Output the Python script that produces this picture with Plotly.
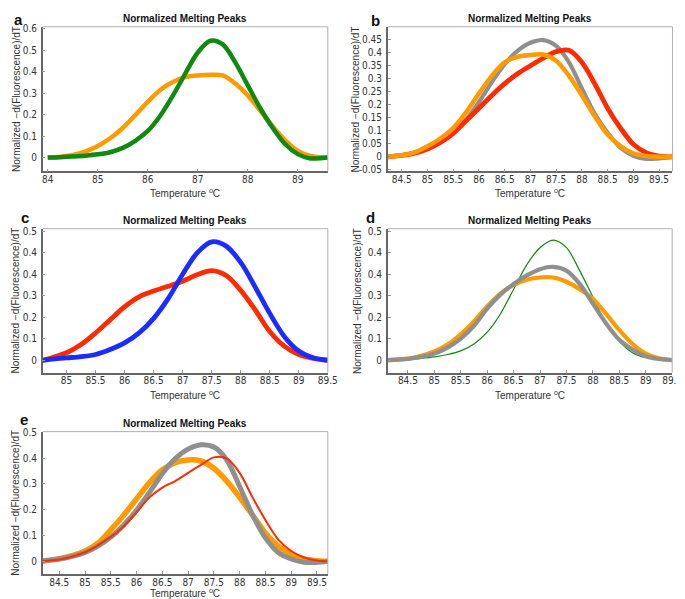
import plotly.graph_objects as go

# ---------------- data ----------------
# Panel a
temp_a = [84.0, 84.25, 84.5, 84.75, 85.0, 85.25, 85.5, 85.75, 86.0, 86.25, 86.5, 86.75,
          87.0, 87.25, 87.5, 87.75, 88.0, 88.25, 88.5, 88.75, 89.0, 89.25, 89.5, 89.6]
a_green = [0.0, 0.002, 0.005, 0.009, 0.015, 0.025, 0.045, 0.078, 0.124, 0.195, 0.288, 0.392,
           0.49, 0.545, 0.528, 0.444, 0.337, 0.23, 0.138, 0.062, 0.016, -0.004, -0.002, 0.0]
a_orange = [0.0, 0.004, 0.012, 0.028, 0.054, 0.09, 0.138, 0.198, 0.26, 0.315, 0.352, 0.375,
            0.383, 0.386, 0.383, 0.345, 0.29, 0.218, 0.145, 0.08, 0.031, 0.008, 0.001, 0.0]

# Panel b
temp_b = [84.23, 84.5, 84.75, 85.0, 85.25, 85.5, 85.75, 86.0, 86.25, 86.5, 86.75, 87.0,
          87.25, 87.5, 87.75, 88.0, 88.25, 88.5, 88.75, 89.0, 89.25, 89.5, 89.76]
b_gray = [0.0, 0.006, 0.016, 0.035, 0.06, 0.092, 0.142, 0.21, 0.286, 0.355, 0.406, 0.437,
          0.447, 0.425, 0.362, 0.262, 0.165, 0.092, 0.035, 0.004, -0.008, -0.006, 0.0]
b_orange = [0.0, 0.006, 0.017, 0.04, 0.07, 0.11, 0.17, 0.242, 0.31, 0.362, 0.383, 0.39,
            0.392, 0.368, 0.31, 0.236, 0.155, 0.085, 0.041, 0.013, 0.003, 0.0, 0.0]
b_red = [0.0, 0.005, 0.014, 0.03, 0.055, 0.09, 0.138, 0.186, 0.235, 0.28, 0.318, 0.349,
         0.378, 0.403, 0.408, 0.362, 0.28, 0.186, 0.11, 0.048, 0.016, 0.003, 0.0]

# Panel c
temp_c = [84.59, 84.75, 85.0, 85.25, 85.5, 85.75, 86.0, 86.25, 86.5, 86.75, 87.0, 87.25,
          87.5, 87.75, 88.0, 88.25, 88.5, 88.75, 89.0, 89.25, 89.5]
c_blue = [0.0, 0.005, 0.011, 0.017, 0.027, 0.05, 0.081, 0.127, 0.195, 0.287, 0.4, 0.5,
          0.551, 0.531, 0.455, 0.34, 0.218, 0.111, 0.043, 0.012, 0.0]
c_red = [0.0, 0.012, 0.035, 0.073, 0.127, 0.188, 0.249, 0.295, 0.322, 0.344, 0.368, 0.398,
         0.417, 0.394, 0.325, 0.234, 0.134, 0.066, 0.027, 0.009, 0.0]

# Panel d
temp_d = [84.12, 84.5, 84.75, 85.0, 85.25, 85.5, 85.75, 86.0, 86.25, 86.5, 86.75, 87.0,
          87.25, 87.5, 87.75, 88.0, 88.25, 88.5, 88.75, 89.0, 89.25, 89.5]
d_green = [0.0, 0.003, 0.008, 0.015, 0.026, 0.043, 0.075, 0.13, 0.215, 0.33, 0.445, 0.524,
           0.559, 0.524, 0.417, 0.294, 0.171, 0.087, 0.034, 0.011, 0.003, 0.0]
d_gray = [0.0, 0.006, 0.015, 0.03, 0.058, 0.1, 0.16, 0.24, 0.305, 0.355, 0.395, 0.424,
          0.435, 0.417, 0.355, 0.263, 0.171, 0.095, 0.049, 0.018, 0.005, 0.0]
d_orange = [0.0, 0.007, 0.02, 0.04, 0.072, 0.12, 0.18, 0.25, 0.31, 0.35, 0.375, 0.385,
            0.385, 0.365, 0.33, 0.286, 0.215, 0.14, 0.075, 0.03, 0.008, 0.0]

# Panel e
temp_e = [84.18, 84.25, 84.5, 84.75, 85.0, 85.25, 85.5, 85.75, 86.0, 86.25, 86.5, 86.75,
          87.0, 87.25, 87.5, 87.75, 88.0, 88.25, 88.5, 88.75, 89.0, 89.25, 89.5, 89.71]
e_gray = [0.0, 0.003, 0.009, 0.019, 0.034, 0.059, 0.094, 0.141, 0.198, 0.267, 0.34, 0.398,
          0.435, 0.452, 0.443, 0.393, 0.29, 0.18, 0.091, 0.034, 0.009, -0.004, -0.004, 0.0]
e_orange = [0.0, 0.003, 0.01, 0.022, 0.04, 0.07, 0.122, 0.179, 0.242, 0.305, 0.355, 0.383,
            0.393, 0.389, 0.361, 0.311, 0.248, 0.179, 0.11, 0.059, 0.028, 0.009, 0.002, 0.0]
e_red = [0.0, 0.002, 0.007, 0.018, 0.035, 0.062, 0.095, 0.135, 0.19, 0.248, 0.286, 0.311,
         0.343, 0.374, 0.403, 0.399, 0.343, 0.248, 0.16, 0.084, 0.04, 0.015, 0.003, 0.0]

# tick labels
x_ticks_a = [84, 85, 86, 87, 88, 89]
x_ticks_half = [84.5, 85, 85.5, 86, 86.5, 87, 87.5, 88, 88.5, 89, 89.5]
x_ticks_c = [85, 85.5, 86, 86.5, 87, 87.5, 88, 88.5, 89, 89.5]
y_ticks_a = [0, 0.1, 0.2, 0.3, 0.4, 0.5, 0.6]
y_text_a = ["0", "0.1", "0.2", "0.3", "0.4", "0.5", "0.6"]
y_ticks_b = [-0.05, 0, 0.05, 0.1, 0.15, 0.2, 0.25, 0.3, 0.35, 0.4, 0.45]
y_text_b = ["-0.05", "0", "0.05", "0.1", "0.15", "0.2", "0.25", "0.3", "0.35", "0.4", "0.45"]
y_ticks_cd = [0, 0.1, 0.2, 0.3, 0.4, 0.5, 0.6]
y_text_cd = ["0", "0.1", "0.2", "0.3", "0.4", "0.4", "0.5"]
y_ticks_e = [0, 0.1, 0.2, 0.3, 0.4, 0.5]
y_text_e = ["0", "0.1", "0.2", "0.3", "0.4", "0.5"]

GREEN = "#0f8a0f"
ORANGE = "#ff9a00"
GRAY = "#8f8f8f"
RED = "#ff2a00"
BLUE = "#1a2cff"

W, H = 685, 599
FONT = "Liberation Sans, Arial, sans-serif"
TICKFONT = "Liberation Sans Narrow, DejaVu Sans Condensed, Liberation Sans, sans-serif"

# panel frames in pixels: (left, right, top, bottom)
frames = {
    "a": (34.3, 324.0, 14.0, 160.7),
    "b": (385.0, 674.3, 14.0, 160.7),
    "c": (34.3, 324.0, 219.0, 365.0),
    "d": (385.0, 674.0, 219.0, 365.0),
    "e": (34.3, 324.0, 425.0, 569.5),
}
xtitle_gap = {"a": 22.5, "b": 22.5, "c": 22.5, "d": 22.5, "e": 19.0}
ytitle_x = {"a": 7, "b": 352, "c": 7, "d": 354, "e": 7}

panels = {
    "a": dict(x=temp_a, series=[(a_orange, ORANGE, 4.5), (a_green, GREEN, 4.5)],
              xr=[83.9, 89.6], yr=[-0.064, 0.61], xt=x_ticks_a, yt=y_ticks_a, ytx=y_text_a),
    "b": dict(x=temp_b, series=[(b_gray, GRAY, 4.2), (b_red, RED, 4.8), (b_orange, ORANGE, 4.5)],
              xr=[84.23, 89.76], yr=[-0.0555, 0.498], xt=x_ticks_half, yt=y_ticks_b, ytx=y_text_b),
    "c": dict(x=temp_c, series=[(c_red, RED, 4.8), (c_blue, BLUE, 4.8)],
              xr=[84.59, 89.5], yr=[-0.057, 0.612], xt=x_ticks_c, yt=y_ticks_cd, ytx=y_text_cd),
    "d": dict(x=temp_d, series=[(d_green, GREEN, 1.2), (d_orange, ORANGE, 4.2), (d_gray, GRAY, 4.2)],
              xr=[84.12, 89.5], yr=[-0.058, 0.6125], xt=x_ticks_half, yt=y_ticks_cd, ytx=y_text_cd),
    "e": dict(x=temp_e, series=[(e_orange, ORANGE, 5.5), (e_gray, GRAY, 5), (e_red, RED, 2)],
              xr=[84.18, 89.71], yr=[-0.049, 0.503], xt=x_ticks_half, yt=y_ticks_e, ytx=y_text_e),
}

fig = go.Figure()
layout = dict(width=W, height=H, margin=dict(l=0, r=0, t=0, b=0),
              paper_bgcolor="white", plot_bgcolor="white", showlegend=False,
              font=dict(family=FONT, color="#333333"))
annotations = []
shapes = []

for i, (key, p) in enumerate(panels.items()):
    n = i + 1
    xa = "x" if n == 1 else f"x{n}"
    ya = "y" if n == 1 else f"y{n}"
    l, r, t, b = frames[key]
    for vals, col, wd in p["series"]:
        fig.add_trace(go.Scatter(x=p["x"], y=vals, mode="lines",
                                 line=dict(color=col, width=wd, shape="spline", smoothing=0.9),
                                 xaxis=xa, yaxis=ya, hoverinfo="skip"))
    xkey = "xaxis" if n == 1 else f"xaxis{n}"
    ykey = "yaxis" if n == 1 else f"yaxis{n}"
    layout[xkey] = dict(domain=[l / W, r / W], range=p["xr"], anchor=ya,
                        tickvals=p["xt"], ticktext=[("%g" % v) for v in p["xt"]],
                        ticks="inside", ticklen=3, tickcolor="#999999",
                        showline=True, linecolor="#666666", linewidth=1.5,
                        mirror=False, showgrid=False, zeroline=False,
                        ticklabelstandoff=-2,
                        tickfont=dict(family=TICKFONT, size=10, color="#333333"))
    layout[ykey] = dict(domain=[1 - b / H, 1 - t / H], range=p["yr"], anchor=xa,
                        tickvals=p["yt"], ticktext=p["ytx"],
                        ticks="inside", ticklen=3, tickcolor="#999999",
                        showline=True, linecolor="#666666", linewidth=1.5,
                        mirror=False, showgrid=False, zeroline=False,
                        ticklabelstandoff=2,
                        tickfont=dict(family=TICKFONT, size=10, color="#333333"))
    # light top / right frame lines
    shapes.append(dict(type="line", xref="paper", yref="paper",
                       x0=l / W, x1=r / W, y0=1 - t / H, y1=1 - t / H,
                       line=dict(color="#b0b0b0", width=1)))
    shapes.append(dict(type="line", xref="paper", yref="paper",
                       x0=r / W, x1=r / W, y0=1 - t / H, y1=1 - b / H,
                       line=dict(color="#b0b0b0", width=1)))
    cx = (l + r) / 2
    cy = (t + b) / 2
    # title
    annotations.append(dict(text="<b>Normalized Melting Peaks</b>", xref="paper", yref="paper",
                            x=cx / W, y=1 - (t - 8) / H, showarrow=False,
                            font=dict(size=10, color="#111111"), xanchor="center", yanchor="middle"))
    # x title
    annotations.append(dict(text="Temperature <sup>o</sup>C", xref="paper", yref="paper",
                            x=cx / W, y=1 - (b + xtitle_gap[key]) / H, showarrow=False,
                            font=dict(size=10, color="#333333"), xanchor="center", yanchor="middle"))
    # y title
    annotations.append(dict(text="Normalized \u2212d(Fluorescence)/dT", xref="paper", yref="paper",
                            x=ytitle_x[key] / W, y=1 - cy / H, showarrow=False, textangle=-90,
                            font=dict(size=10, color="#333333"), xanchor="center", yanchor="middle"))

letters = {"a": (3, 7), "b": (366, 8), "c": (10, 208), "d": (361, 208), "e": (9, 413)}
for k, (px, py) in letters.items():
    annotations.append(dict(text=f"<b>{k}</b>", xref="paper", yref="paper",
                            x=px / W, y=1 - py / H, showarrow=False,
                            font=dict(size=15, color="#111111"), xanchor="left", yanchor="middle"))

layout["annotations"] = annotations
layout["shapes"] = shapes
fig.update_layout(**layout)
fig.write_html("out.html")
